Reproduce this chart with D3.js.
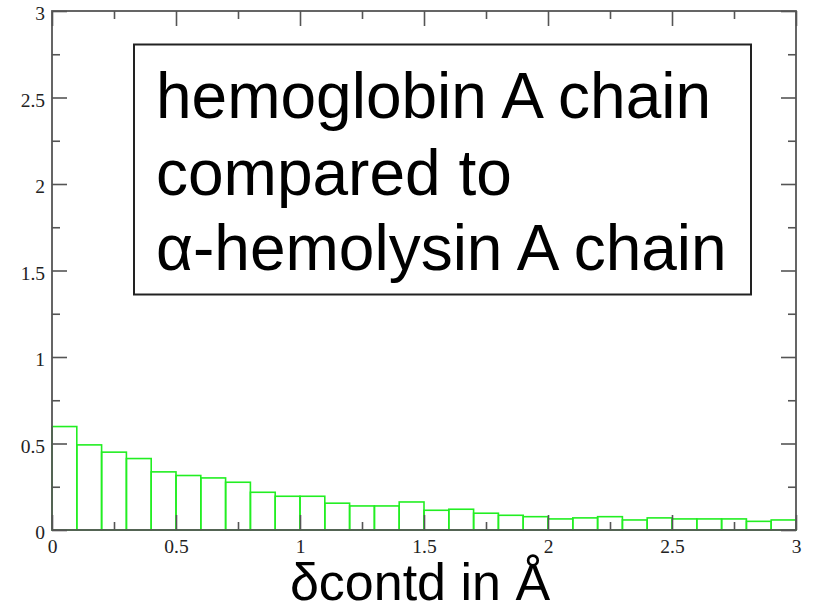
<!DOCTYPE html>
<html>
<head>
<meta charset="utf-8">
<script src="https://cdn.jsdelivr.net/npm/d3@7"></script>
<style>
  html, body { margin: 0; padding: 0; background: #fff; }
  svg { display: block; }
</style>
</head>
<body>
<svg id="chart" width="814" height="610"></svg>
<script>
// ---- data ----
const binStarts = [0.0, 0.1, 0.2, 0.3, 0.4, 0.5, 0.6, 0.7, 0.8, 0.9,
                   1.0, 1.1, 1.2, 1.3, 1.4, 1.5, 1.6, 1.7, 1.8, 1.9,
                   2.0, 2.1, 2.2, 2.3, 2.4, 2.5, 2.6, 2.7, 2.8, 2.9];
const binWidth = 0.1;
const counts = [0.598, 0.492, 0.450, 0.413, 0.336, 0.315, 0.301, 0.276, 0.218, 0.195,
                0.195, 0.155, 0.139, 0.139, 0.162, 0.114, 0.120, 0.097, 0.085, 0.077,
                0.064, 0.070, 0.077, 0.058, 0.070, 0.064, 0.064, 0.064, 0.050, 0.058];
const majorTicks = [0, 0.5, 1, 1.5, 2, 2.5, 3];
const majorLabels = ["0", "0.5", "1", "1.5", "2", "2.5", "3"];
const minorTicks = [0.25, 0.75, 1.25, 1.75, 2.25, 2.75];
const xDomain = [0, 3];
const yDomain = [0, 3];
const annotationLines = ["hemoglobin A chain", "compared to", "\u03b1-hemolysin A chain"];
const xTitle = "\u03b4contd in \u00c5";

// ---- layout ----
const L = 52, R = 796, T = 11, B = 530;
const svg = d3.select("#chart");
const x = d3.scaleLinear().domain(xDomain).range([L, R]);
const y = d3.scaleLinear().domain(yDomain).range([B, T]);

const green = "#22ee22";
const axisCol = "#555";
const serif = "'Liberation Serif', 'Times New Roman', serif";
const sans = "'Liberation Sans', Arial, Helvetica, sans-serif";
const fmt = (d) => majorLabels[majorTicks.indexOf(d)];

// bars
svg.append("g").selectAll("rect")
  .data(binStarts)
  .join("rect")
  .attr("x", (d) => x(d))
  .attr("width", (d) => x(d + binWidth) - x(d))
  .attr("y", (d, i) => y(counts[i]))
  .attr("height", (d, i) => y(0) - y(counts[i]))
  .attr("fill", "none")
  .attr("stroke", green)
  .attr("stroke-width", 1.6);

function styleAxis(g, showLabels) {
  g.select(".domain").remove();
  g.selectAll(".tick line").attr("stroke", axisCol).attr("stroke-width", 1.6);
  g.selectAll("text")
    .attr("font-family", serif)
    .attr("font-size", 19.5)
    .attr("fill", "#222");
  if (!showLabels) g.selectAll("text").remove();
}

// ticks (inward) on all four sides
const MAJ = 15, MIN = 8;
svg.append("g").attr("transform", `translate(0,${B})`)
  .call(d3.axisBottom(x).tickValues(majorTicks).tickFormat(fmt).tickSizeInner(-MAJ).tickSizeOuter(0).tickPadding(9))
  .call((g) => styleAxis(g, true));
svg.append("g").attr("transform", `translate(0,${B})`)
  .call(d3.axisBottom(x).tickValues(minorTicks).tickSizeInner(-MIN).tickSizeOuter(0))
  .call((g) => styleAxis(g, false));
svg.append("g").attr("transform", `translate(0,${T})`)
  .call(d3.axisTop(x).tickValues(majorTicks).tickSizeInner(-MAJ).tickSizeOuter(0))
  .call((g) => styleAxis(g, false));
svg.append("g").attr("transform", `translate(0,${T})`)
  .call(d3.axisTop(x).tickValues(minorTicks).tickSizeInner(-MIN).tickSizeOuter(0))
  .call((g) => styleAxis(g, false));
const yl = svg.append("g").attr("transform", `translate(${L},0)`)
  .call(d3.axisLeft(y).tickValues(majorTicks).tickFormat(fmt).tickSizeInner(-MAJ).tickSizeOuter(0).tickPadding(7))
  .call((g) => styleAxis(g, true));
yl.selectAll("text").attr("dy", "0.44em");
svg.append("g").attr("transform", `translate(${L},0)`)
  .call(d3.axisLeft(y).tickValues(minorTicks).tickSizeInner(-MIN).tickSizeOuter(0))
  .call((g) => styleAxis(g, false));
svg.append("g").attr("transform", `translate(${R},0)`)
  .call(d3.axisRight(y).tickValues(majorTicks).tickSizeInner(-MAJ).tickSizeOuter(0))
  .call((g) => styleAxis(g, false));
svg.append("g").attr("transform", `translate(${R},0)`)
  .call(d3.axisRight(y).tickValues(minorTicks).tickSizeInner(-MIN).tickSizeOuter(0))
  .call((g) => styleAxis(g, false));

// frame
svg.append("rect")
  .attr("x", x(xDomain[0])).attr("y", y(yDomain[1]))
  .attr("width", x(xDomain[1]) - x(xDomain[0]))
  .attr("height", y(yDomain[0]) - y(yDomain[1]))
  .attr("fill", "none").attr("stroke", axisCol).attr("stroke-width", 1.8);

// annotation box
svg.append("rect")
  .attr("x", 134).attr("y", 44.5).attr("width", 617).attr("height", 250)
  .attr("fill", "#fff").attr("stroke", "#222").attr("stroke-width", 2);
const baselines = [118, 194.5, 270];
svg.append("g").selectAll("text")
  .data(annotationLines)
  .join("text")
  .attr("x", 156)
  .attr("y", (d, i) => baselines[i])
  .attr("font-family", sans)
  .attr("font-size", 64)
  .attr("fill", "#000")
  .text((d) => d);

// x title
svg.append("text")
  .attr("x", 420).attr("y", 600)
  .attr("text-anchor", "middle")
  .attr("font-family", sans)
  .attr("font-size", 52)
  .attr("fill", "#000")
  .text(xTitle);
</script>
</body>
</html>
